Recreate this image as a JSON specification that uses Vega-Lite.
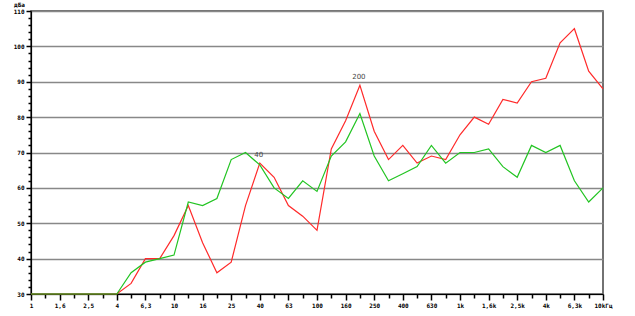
{
  "$schema": "https://vega.github.io/schema/vega-lite/v6.json",
  "width": 572,
  "height": 283,
  "autosize": "none",
  "padding": {"left": 31, "top": 11, "right": 32, "bottom": 22},
  "background": "white",
  "config": {
    "view": {"stroke": "#444444", "strokeWidth": 1.5},
    "axis": {"labelFont": "DejaVu Sans Mono", "labelFontWeight": "bold", "labelFontSize": 6, "labelColor": "#000000", "titleFont": "DejaVu Sans Mono", "titleFontWeight": "bold", "titleFontSize": 6, "titleColor": "#000000", "domainColor": "#000000", "domainWidth": 1.2, "labelOverlap": false, "ticks": true, "tickColor": "#000000", "tickOpacity": 1, "tickWidth": 1.5}
  },
  "data": {
    "values": [
      {"i": 0, "f": "1", "red": 30, "green": 30},
      {"i": 1, "f": "1.25", "red": 30, "green": 30},
      {"i": 2, "f": "1.6", "red": 30, "green": 30},
      {"i": 3, "f": "2", "red": 30, "green": 30},
      {"i": 4, "f": "2.5", "red": 30, "green": 30},
      {"i": 5, "f": "3.15", "red": 30, "green": 30},
      {"i": 6, "f": "4", "red": 30, "green": 30},
      {"i": 7, "f": "5", "red": 33, "green": 36},
      {"i": 8, "f": "6.3", "red": 40, "green": 39},
      {"i": 9, "f": "8", "red": 40, "green": 40},
      {"i": 10, "f": "10", "red": 46.5, "green": 41},
      {"i": 11, "f": "12.5", "red": 55, "green": 56},
      {"i": 12, "f": "16", "red": 44.5, "green": 55},
      {"i": 13, "f": "20", "red": 36, "green": 57},
      {"i": 14, "f": "25", "red": 39, "green": 68},
      {"i": 15, "f": "31.5", "red": 55, "green": 70},
      {"i": 16, "f": "40", "red": 67, "green": 66.5, "note": "40"},
      {"i": 17, "f": "50", "red": 63, "green": 60},
      {"i": 18, "f": "63", "red": 55, "green": 57},
      {"i": 19, "f": "80", "red": 52, "green": 62},
      {"i": 20, "f": "100", "red": 48, "green": 59},
      {"i": 21, "f": "125", "red": 71, "green": 69},
      {"i": 22, "f": "160", "red": 79, "green": 73},
      {"i": 23, "f": "200", "red": 89, "green": 81, "note": "200"},
      {"i": 24, "f": "250", "red": 76, "green": 69},
      {"i": 25, "f": "315", "red": 68, "green": 62},
      {"i": 26, "f": "400", "red": 72, "green": 64},
      {"i": 27, "f": "500", "red": 67, "green": 66},
      {"i": 28, "f": "630", "red": 69, "green": 72},
      {"i": 29, "f": "800", "red": 68, "green": 67},
      {"i": 30, "f": "1k", "red": 75, "green": 70},
      {"i": 31, "f": "1.25k", "red": 80, "green": 70},
      {"i": 32, "f": "1.6k", "red": 78, "green": 71},
      {"i": 33, "f": "2k", "red": 85, "green": 66},
      {"i": 34, "f": "2.5k", "red": 84, "green": 63},
      {"i": 35, "f": "3.15k", "red": 90, "green": 72},
      {"i": 36, "f": "4k", "red": 91, "green": 70},
      {"i": 37, "f": "5k", "red": 101, "green": 72},
      {"i": 38, "f": "6.3k", "red": 105, "green": 62},
      {"i": 39, "f": "8k", "red": 93, "green": 56},
      {"i": 40, "f": "10k", "red": 88, "green": 60}
    ]
  },
  "transform": [{"fold": ["red", "green"], "as": ["series", "db"]}],
  "resolve": {"axis": {"x": "independent", "y": "independent"}},
  "layer": [
    {
      "mark": {"type": "text", "opacity": 0},
      "encoding": {
        "x": {
          "field": "i", "type": "quantitative",
          "scale": {"domain": [0, 40], "nice": false, "zero": false},
          "axis": {"orient": "bottom", "title": null, "grid": false, "labels": false, "domain": false, "ticks": true, "tickSize": 4,
            "values": [1,3,5,7,9,11,13,15,17,19,21,23,25,27,29,31,33,35,37,39]}
        },
        "y": {
          "field": "db", "type": "quantitative",
          "scale": {"domain": [30, 110], "nice": false, "zero": false},
          "axis": {"orient": "left", "title": null, "grid": false, "labels": false, "domain": false, "ticks": true, "tickSize": 3,
            "values": [32,34,36,38,42,44,46,48,52,54,56,58,62,64,66,68,72,74,76,78,82,84,86,88,92,94,96,98,102,104,106,108]}
        },
        "text": {"field": "f"}
      }
    },
    {
      "mark": {"type": "line", "strokeWidth": 1.2},
      "encoding": {
        "x": {
          "field": "i", "type": "quantitative",
          "axis": {
            "orient": "bottom", "title": null, "grid": false, "ticks": true, "tickSize": 6,
            "values": [0,2,4,6,8,10,12,14,16,18,20,22,24,26,28,30,32,34,36,38,40],
            "labelExpr": "['1','1,6','2,5','4','6,3','10','16','25','40','63','100','160','250','400','630','1k','1,6k','2,5k','4k','6,3k','10kГц'][datum.value / 2]",
            "labelPadding": 2,
            "labelFlush": false
          }
        },
        "y": {
          "field": "db", "type": "quantitative",
          "axis": {
            "orient": "left",
            "title": "дБа", "titleAngle": 0, "titleX": -12, "titleY": -4, "titleAlign": "center", "titleBaseline": "bottom",
            "values": [30,40,50,60,70,80,90,100,110],
            "ticks": true, "tickSize": 5,
            "grid": true,
            "gridColor": "#888888",
            "gridWidth": 1.5,
            "labelPadding": 2
          }
        },
        "color": {"field": "series", "type": "nominal", "scale": {"domain": ["red", "green"], "range": ["#ff2a2a", "#22c422"]}, "legend": null}
      }
    },
    {
      "transform": [{"filter": "datum.note && datum.series == 'red'"}],
      "mark": {"type": "text", "dy": -8, "dx": -1, "fontSize": 7, "font": "DejaVu Sans", "color": "#444444"},
      "encoding": {
        "x": {"field": "i", "type": "quantitative", "axis": null},
        "y": {"field": "db", "type": "quantitative", "axis": null},
        "text": {"field": "note"}
      }
    }
  ]
}
